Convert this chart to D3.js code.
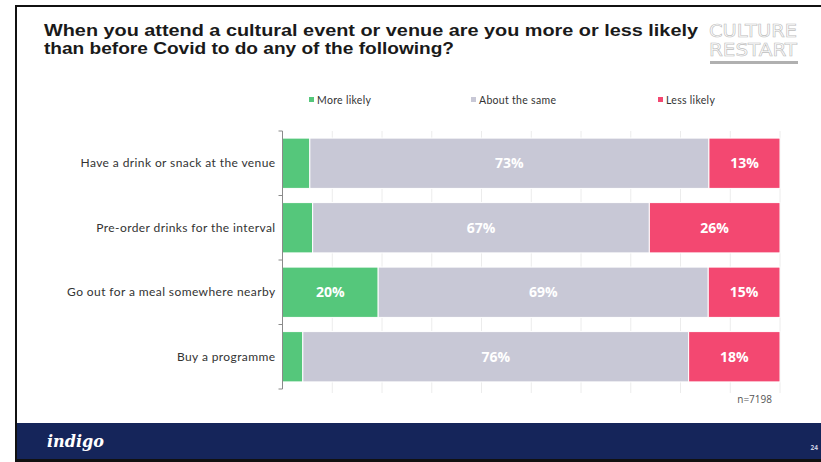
<!DOCTYPE html>
<html>
<head>
<meta charset="utf-8">
<script src="https://cdn.jsdelivr.net/npm/d3@7"></script>
<style>
  html, body { margin: 0; padding: 0; background: #fff; }
  svg { display: block; }
</style>
</head>
<body>
<svg id="chart" width="821" height="462"></svg>
<script>
// Survey answers per activity (percent of respondents)
const categories = [
  "Have a drink or snack at the venue",
  "Pre-order drinks for the interval",
  "Go out for a meal somewhere nearby",
  "Buy a programme"
];
const seriesNames = ["More likely", "About the same", "Less likely"];
const moreLikely  = [5, 6, 20, 4];
const aboutSame   = [73, 67, 69, 76];
const lessLikely  = [13, 26, 15, 18];
// which segments carry a printed value
const showLabel = {
  "More likely":    [false, false, true, false],
  "About the same": [true, true, true, true],
  "Less likely":    [true, true, true, true]
};
const sampleNote = "n=7198";
const pageNumber = "24";

const colors = { "More likely": "#55c77b", "About the same": "#c8c8d6", "Less likely": "#f34871" };

const rows = categories.map((c, i) => ({
  category: c,
  "More likely": moreLikely[i],
  "About the same": aboutSame[i],
  "Less likely": lessLikely[i]
}));

const svg = d3.select("#chart");
const W = 821, H = 462;

// slide frame
svg.append("rect").attr("x", 0).attr("y", 0).attr("width", W).attr("height", H).attr("fill", "#fff");
svg.append("rect").attr("x", 15).attr("y", 5).attr("width", W - 15).attr("height", 2).attr("fill", "#111");
svg.append("rect").attr("x", 15).attr("y", 5).attr("width", 2).attr("height", H - 5).attr("fill", "#111");
svg.append("rect").attr("x", 15).attr("y", 459).attr("width", W - 15).attr("height", 3).attr("fill", "#111");

// footer band
svg.append("rect").attr("x", 17).attr("y", 423).attr("width", W - 17).attr("height", 36).attr("fill", "#15255a");
svg.append("text").attr("x", 47).attr("y", 447)
  .attr("font-family", "'DejaVu Serif', 'Liberation Serif', serif")
  .attr("font-style", "italic").attr("font-weight", "bold")
  .attr("font-size", 16).attr("fill", "#fff").text("indigo");
svg.append("text").attr("x", 818).attr("y", 450).attr("text-anchor", "end")
  .attr("font-family", "'Open Sans', sans-serif").attr("font-weight", "bold")
  .attr("font-size", 6.5).attr("fill", "#c9cde0").text(pageNumber);

// title, two lines
const titleLines = [
  ["When you attend a cultural event or venue are you more or less likely", 36, 654],
  ["than before Covid to do any of the following?", 54, 410]
];
titleLines.forEach(([t, yy, len]) => {
  svg.append("text").attr("x", 44).attr("y", yy)
    .attr("font-family", "'Liberation Sans', Arial, sans-serif").attr("font-weight", "bold")
    .attr("font-size", 16).attr("fill", "#1a1a1a")
    .attr("textLength", len).attr("lengthAdjust", "spacingAndGlyphs")
    .text(t);
});

// logo
const logo = svg.append("g");
[["CULTURE", 37], ["RESTART", 56]].forEach(([t, yy]) => {
  logo.append("text").attr("x", 709).attr("y", yy)
    .attr("font-family", "'DejaVu Sans', sans-serif").attr("font-size", 18)
    .attr("textLength", 88).attr("lengthAdjust", "spacingAndGlyphs")
    .attr("fill", "#fff").attr("stroke", "#bdbdbd").attr("stroke-width", 0.6)
    .text(t);
});
logo.append("rect").attr("x", 710).attr("y", 61).attr("width", 88).attr("height", 3).attr("fill", "#b0b0b0");

// scales
const x = d3.scaleLinear().domain([0, 1]).range([282.5, 780]);
const y = d3.scaleBand().domain(categories).range([131, 389]).paddingInner(0.22).paddingOuter(0.11);

// gridlines
svg.append("g").selectAll("line").data(x.ticks(10).slice(1)).join("line")
  .attr("x1", d => x(d)).attr("x2", d => x(d))
  .attr("y1", 131).attr("y2", 393)
  .attr("stroke", "#ececec").attr("stroke-width", 1);

// stacked, each row shown as share of its own total
const stack = d3.stack().keys(seriesNames).offset(d3.stackOffsetExpand);
const layers = stack(rows);

const g = svg.append("g");
layers.forEach(layer => {
  const key = layer.key;
  g.append("g").selectAll("rect").data(layer).join("rect")
    .attr("x", d => x(d[0]))
    .attr("y", d => y(d.data.category))
    .attr("width", d => x(d[1]) - x(d[0]))
    .attr("height", y.bandwidth())
    .attr("fill", colors[key])
    .attr("stroke", "#fff").attr("stroke-width", 1);
  g.append("g").selectAll("text").data(layer.filter((d, i) => showLabel[key][i])).join("text")
    .attr("x", d => (x(d[0]) + x(d[1])) / 2)
    .attr("y", d => y(d.data.category) + y.bandwidth() / 2)
    .attr("dy", "0.36em").attr("text-anchor", "middle")
    .attr("font-family", "'Open Sans', sans-serif").attr("font-weight", "bold")
    .attr("font-size", 14).attr("fill", "#fff")
    .text(d => d.data[key] + "%");
});

// category axis
const axis = svg.append("g").attr("transform", `translate(${x(0)},0)`)
  .call(d3.axisLeft(y).tickSize(0).tickPadding(7));
axis.select(".domain").attr("stroke", "#8a8a8a").attr("d", `M0,131V389`);
axis.selectAll("text")
  .attr("font-family", "'Lato', sans-serif").attr("font-size", 12).attr("fill", "#333")
  .attr("letter-spacing", 0.4);
// ticks at the band boundaries
axis.append("g").selectAll("line").data(d3.range(categories.length + 1)).join("line")
  .attr("x1", -4).attr("x2", 0)
  .attr("y1", i => 131 + i * y.step()).attr("y2", i => 131 + i * y.step())
  .attr("stroke", "#8a8a8a");

// legend
const legendX = [309, 471, 658];
const legend = svg.append("g");
seriesNames.forEach((s, i) => {
  legend.append("rect").attr("x", legendX[i]).attr("y", 97).attr("width", 5).attr("height", 5).attr("fill", colors[s]);
  legend.append("text").attr("x", legendX[i] + 8).attr("y", 103.5)
    .attr("font-family", "'Lato', sans-serif").attr("font-size", 10.5).attr("fill", "#333")
    .attr("letter-spacing", 0.3).text(s);
});

// sample size
svg.append("text").attr("x", 772).attr("y", 403).attr("text-anchor", "end")
  .attr("font-family", "'Open Sans', sans-serif").attr("font-size", 10).attr("fill", "#555").text(sampleNote);
</script>
</body>
</html>
